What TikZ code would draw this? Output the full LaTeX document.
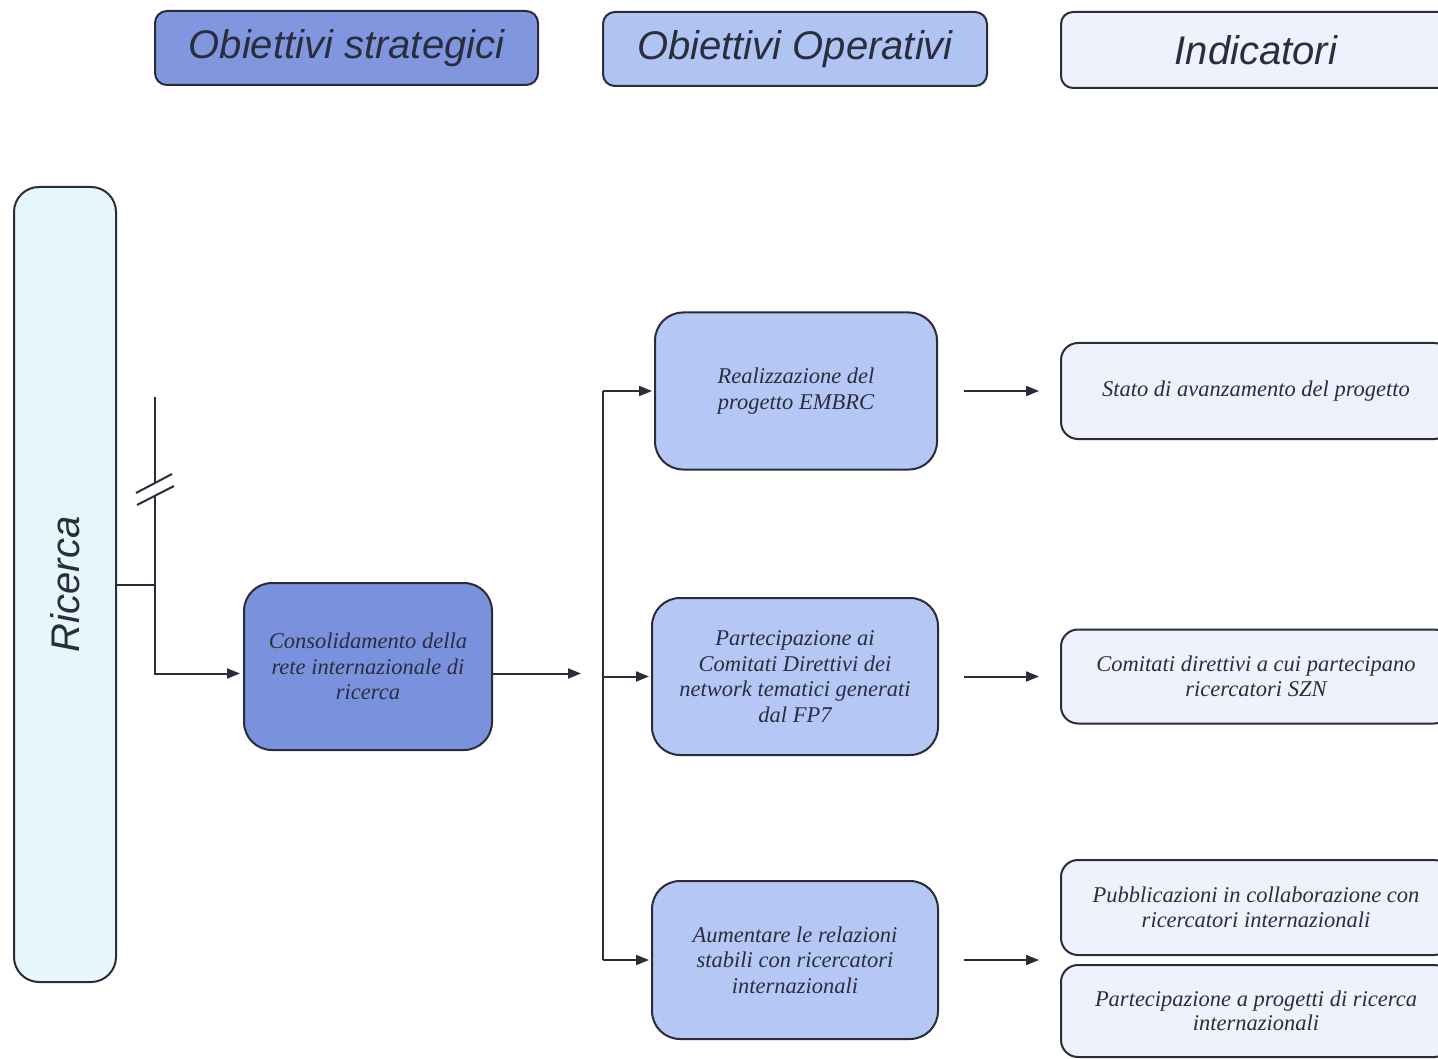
\documentclass[tikz,border=0pt]{standalone}
\usepackage{fontspec}
\setmainfont{Liberation Serif}
\newfontfamily\headfont{Liberation Sans}
\usetikzlibrary{arrows.meta,calc}
\definecolor{stratfill}{HTML}{8097E0}
\definecolor{consfill}{HTML}{7A92DE}
\definecolor{opfill}{HTML}{B4C7F5}
\definecolor{ophead}{HTML}{B0C4F3}
\definecolor{indfill}{HTML}{EEF2FC}
\definecolor{ricfill}{HTML}{E6F7FC}
\definecolor{edge}{HTML}{2B2B3A}
\definecolor{txt}{HTML}{2A2D3E}
\begin{document}
\begin{tikzpicture}[x=1pt,y=-1pt,
  base/.style={draw=edge, line width=2pt, align=center, text=txt, inner sep=0pt},
  headbox/.style={base, rounded corners=12pt, minimum height=74pt,
    font=\headfont\itshape\fontsize{40}{44}\selectfont},
  bodybox/.style={base, rounded corners=28pt,
    font=\fontsize{22.5}{25.5}\selectfont\itshape},
  indbox/.style={base, rounded corners=17pt, fill=indfill, minimum width=390pt,
    font=\fontsize{22.5}{24.5}\selectfont\itshape},
  conn/.style={draw=edge, line width=2pt},
  arr/.style={conn, -{Triangle[length=13pt,width=10pt]}}
]
\clip (0,0) rectangle (1438,1059);
\fill[white] (0,0) rectangle (1438,1059);

% headers
\node[headbox, fill=stratfill, minimum width=383pt] (h1) at (346.5,48) {\raisebox{-2pt}{Obiettivi strategici}};
\node[headbox, fill=ophead, minimum width=384pt] (h2) at (795,49) {\raisebox{-2pt}{Obiettivi Operativi}};
\node[headbox, fill=indfill, minimum width=390pt, minimum height=76pt] (h3) at (1256,50) {Indicatori};

% Ricerca
\node[base, fill=ricfill, rounded corners=25pt, rotate=90, minimum width=795pt, minimum height=102pt,
  font=\headfont\itshape\fontsize{40}{44}\selectfont] (ric) at (65,584.5) {Ricerca};

% strategic objective
\node[bodybox, fill=consfill, minimum width=248pt, minimum height=167pt] (cons) at (368,666.5)
  {Consolidamento della\\rete internazionale di\\ricerca};

% operative objectives
\node[bodybox, fill=opfill, minimum width=282pt, minimum height=157pt] (real) at (796,391)
  {Realizzazione del\\progetto EMBRC};
\node[bodybox, fill=opfill, minimum width=286pt, minimum height=157pt] (part) at (795,676.5)
  {Partecipazione ai\\Comitati Direttivi dei\\network tematici generati\\dal FP7};
\node[bodybox, fill=opfill, minimum width=286pt, minimum height=158pt] (aum) at (795,960)
  {Aumentare le relazioni\\stabili con ricercatori\\internazionali};

% indicators
\node[indbox, minimum height=96pt] (ind1) at (1256,391) {Stato di avanzamento del progetto};
\node[indbox, minimum height=94pt] (ind2) at (1256,676.5) {Comitati direttivi a cui partecipano\\ricercatori SZN};
\node[indbox, minimum height=95pt] (ind3) at (1256,907.5) {Pubblicazioni in collaborazione con\\ricercatori internazionali};
\node[indbox, minimum height=92pt] (ind4) at (1256,1011) {Partecipazione a progetti di ricerca\\internazionali};

% left connectors with break mark
\coordinate (j1) at (155,584.5);
\coordinate (btop) at (155,397);
\coordinate (bA) at (155,483);
\coordinate (bB) at (155,495);
\draw[conn] (ric.south) -- (j1) -- (bB);
\draw[conn] (bA) -- (btop);
\draw[conn] (136,493) -- (172,474);
\draw[conn] (137,505) -- (174,486);
\draw[arr] (j1) |- ([yshift=-7pt, xshift=-3pt]cons.west);

% strategic -> operative
\coordinate (cend) at ([xshift=88pt, yshift=-7pt]cons.east);
\draw[arr] ([yshift=-7pt]cons.east) -- (cend);
\coordinate (vtop) at (603,391);
\coordinate (vbot) at (603,960);
\draw[conn] (vtop) -- (vbot);
\draw[arr] (vtop) -- ([xshift=-2pt]real.west);
\draw[arr] (part.west -| vtop) -- ([xshift=-2pt]part.west);
\draw[arr] (vbot) -- ([xshift=-2pt]aum.west);

% operative -> indicators
\draw[arr] ([xshift=26pt]real.east) -- ([xshift=-21pt]ind1.west);
\draw[arr] ([xshift=25pt]part.east) -- ([xshift=-21pt]ind2.west);
\draw[arr] ([xshift=25pt]aum.east) -- ([xshift=-21pt]$(ind3.south west)!0.5!(ind4.north west)$);
\end{tikzpicture}
\end{document}
